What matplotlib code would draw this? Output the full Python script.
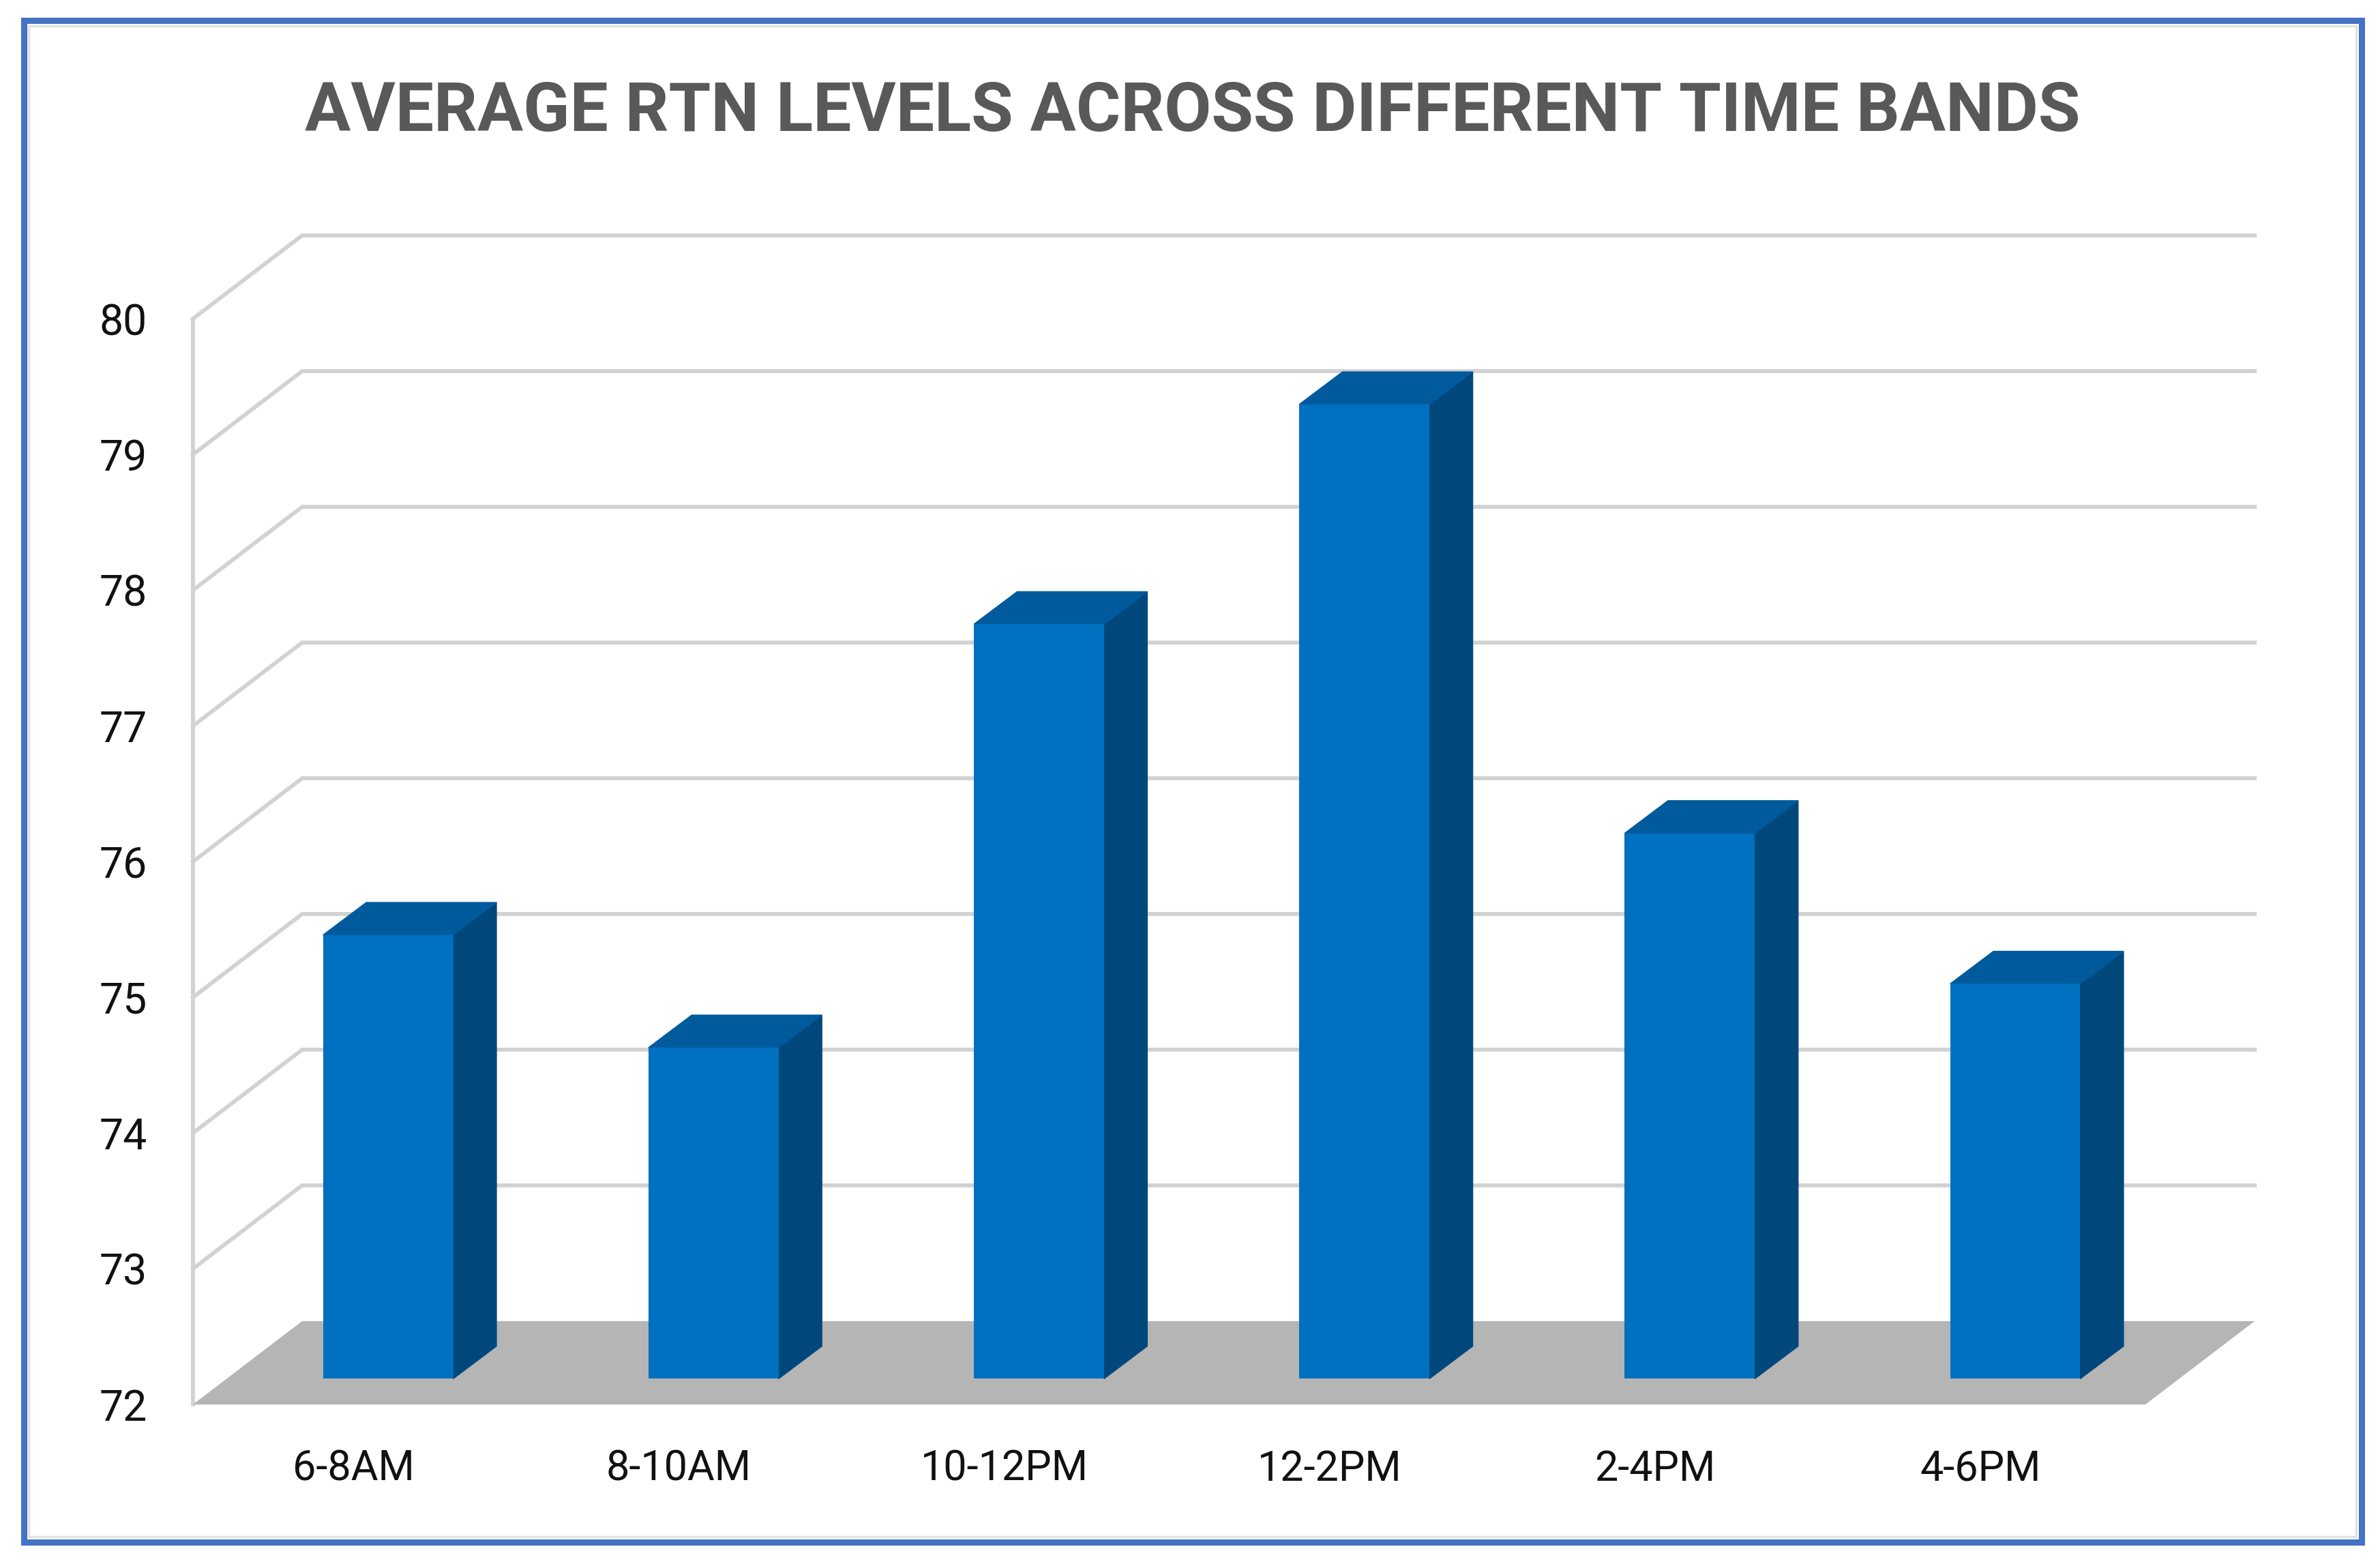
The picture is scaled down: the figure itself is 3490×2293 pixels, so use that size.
import matplotlib
matplotlib.use('Agg')
import matplotlib.pyplot as plt
from matplotlib.patches import Polygon, Rectangle
from matplotlib.transforms import ScaledTranslation

# values
bands = ['6-8AM', '8-10AM', '10-12PM', '12-2PM', '2-4PM', '4-6PM']
rtn = [75.27, 74.44, 77.56, 79.18, 76.02, 74.91]
y_ticks = [72, 73, 74, 75, 76, 77, 78, 79, 80]
title = 'AVERAGE RTN LEVELS ACROSS DIFFERENT TIME BANDS'

# fake 3d offsets, in data units
wall_dx, wall_dy = 0.336, 0.615
depth_dx, depth_dy = 0.133, 0.24
bar_dx, bar_dy = 0.10, 0.19
bar_w = 0.40

W, H = 1568, 1030  # shrunk picture size, used for placing the axes
fig = plt.figure(figsize=(34.91, 22.93), dpi=100, facecolor='white')
ax = fig.add_axes([127 / W, 1 - 925 / H, (1413 - 127) / W, (925 - 210) / H])
ax.set_xlim(-0.5, 5.5)
ax.set_ylim(72, 80)
ax.patch.set_visible(False)

x0, x1 = -0.5, 5.5

# floor
ax.add_patch(Polygon([(x0, 72), (x1, 72), (x1 + wall_dx, 72 + wall_dy), (x0 + wall_dx, 72 + wall_dy)],
                     closed=True, fc='#B5B5B5', ec='none', clip_on=False, zorder=1))

# grid lines on the side and back walls
grid_col = '#D2D2D2'
for t in y_ticks:
    if t > 72:
        ax.plot([x0, x0 + wall_dx, x1 + wall_dx], [t, t + wall_dy, t + wall_dy], color=grid_col, lw=4.2,
                clip_on=False, zorder=0, solid_joinstyle='miter')
ax.plot([x0, x0], [72, 80], color=grid_col, lw=4.2, clip_on=False, zorder=0)

# bars
for i, v in enumerate(rtn):
    left = i + bar_dx - bar_w / 2
    right = left + bar_w
    base = 72 + bar_dy
    top = base + (v - 72)
    ax.bar(i + bar_dx, v - 72, width=bar_w, bottom=base, color='#0070C0', zorder=4, clip_on=False)
    ax.add_patch(Polygon([(right, base), (right + depth_dx, base + depth_dy),
                          (right + depth_dx, top + depth_dy), (right, top)],
                         closed=True, fc='#00487C', ec='#00487C', lw=1, clip_on=False, zorder=3))
    ax.add_patch(Polygon([(left, top), (right, top), (right + depth_dx, top + depth_dy),
                          (left + depth_dx, top + depth_dy)],
                         closed=True, fc='#005A9C', ec='#005A9C', lw=1, clip_on=False, zorder=3))

for s in ax.spines.values():
    s.set_visible(False)

ax.set_xticks(range(len(bands)))
ax.set_xticklabels(bands, fontfamily='Roboto', fontsize=44, color='#111111')
ax.set_yticks(y_ticks)
ax.set_yticklabels([str(t) for t in y_ticks], fontfamily='Roboto', fontsize=45, color='#111111')
ax.tick_params(axis='x', length=0, pad=47)
ax.tick_params(axis='y', length=0, pad=48)

# x labels sit a touch left of the tick
nudge = ScaledTranslation(-3 / 100, 0, fig.dpi_scale_trans)
for lab in ax.get_xticklabels():
    lab.set_transform(lab.get_transform() + nudge)

fig.text(785.5 / W, 1 - 74 / H, title, ha='center', va='center', fontfamily='Roboto',
         fontweight='bold', fontsize=72, color='#595959')

# outer frame
fig.add_artist(Rectangle((15.5 / W, 1 - 1015.5 / H), 1540 / W, 1002 / H, transform=fig.transFigure,
                         fc='none', ec='#4472C4', lw=6.5))
fig.add_artist(Rectangle((19 / W, 1 - 1012 / H), 1533 / W, 995 / H, transform=fig.transFigure,
                         fc='none', ec='#E2E2E2', lw=2.5))

fig.savefig('out.png', dpi=100)
